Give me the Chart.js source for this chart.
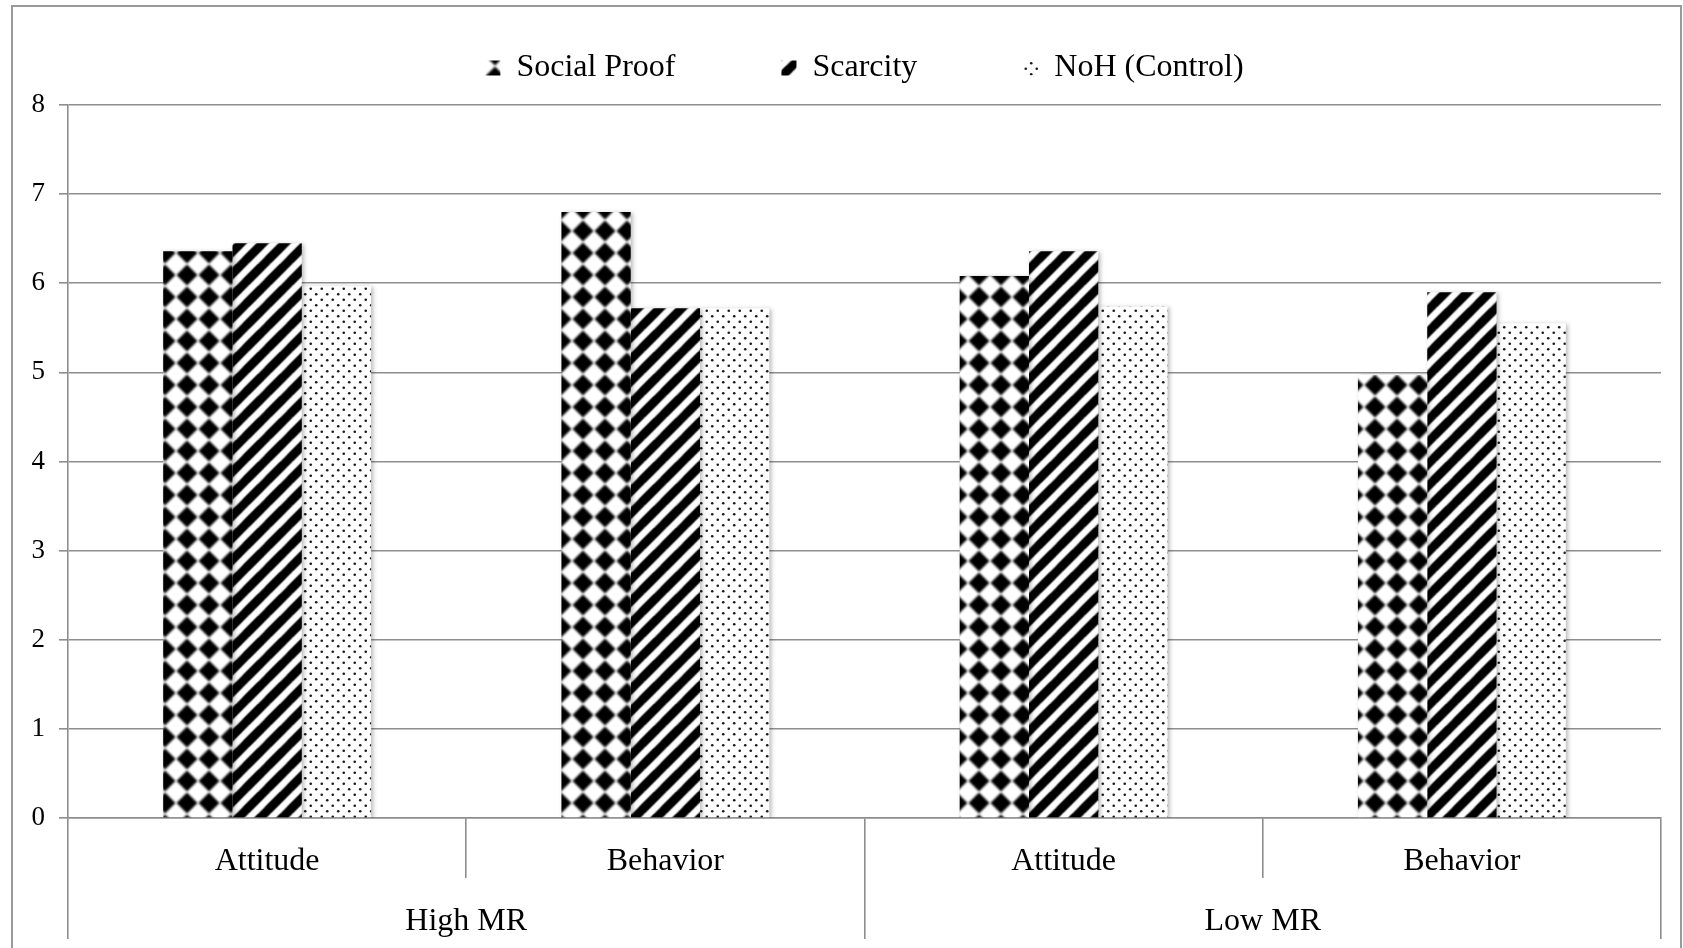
<!DOCTYPE html>
<html>
<head>
<meta charset="utf-8">
<script src="https://cdn.jsdelivr.net/npm/chart.js@4.4.1/dist/chart.umd.min.js"></script>
<style>
  html, body { margin: 0; padding: 0; background: #fff; }
  canvas { display: block; }
</style>
</head>
<body>
<canvas id="chart" width="1683" height="948"></canvas>
<script>
// Mean scores per condition (0–8 scale)
const conditions = ['Attitude', 'Behavior', 'Attitude', 'Behavior'];
const groups = ['High MR', 'Low MR'];
const socialProof = [6.36, 6.80, 6.08, 4.97];
const scarcity = [6.45, 5.72, 6.36, 5.90];
const control = [5.97, 5.72, 5.74, 5.55];
const yTicks = [0, 1, 2, 3, 4, 5, 6, 7, 8];

const canvas = document.getElementById('chart');
const mainCtx = canvas.getContext('2d');

// Monochrome fill patterns, drawn on a 3x3 wrap so the soft edges tile seamlessly
function makePattern(size, blur, drawShape) {
  const tile = document.createElement('canvas');
  tile.width = size;
  tile.height = size;
  const g = tile.getContext('2d');
  g.fillStyle = '#fff';
  g.fillRect(0, 0, size, size);
  g.filter = 'blur(' + blur + 'px)';
  for (const ox of [-size, 0, size]) {
    for (const oy of [-size, 0, size]) {
      g.save();
      g.translate(ox, oy);
      drawShape(g, size);
      g.restore();
    }
  }
  return mainCtx.createPattern(tile, 'repeat');
}

const diamondFill = makePattern(22, 0.9, (g, s) => {
  const c = s / 2, r = 10.5;
  g.fillStyle = '#000';
  g.beginPath();
  g.moveTo(c, c - r);
  g.lineTo(c + r, c);
  g.lineTo(c, c + r);
  g.lineTo(c - r, c);
  g.closePath();
  g.fill();
});

const stripeFill = makePattern(22, 0.8, (g, s) => {
  g.strokeStyle = '#000';
  g.lineWidth = 6;
  for (const k of [0, s, 2 * s]) {
    g.beginPath();
    g.moveTo(k - 40, 40);
    g.lineTo(k + 40, -40);
    g.stroke();
  }
});

const dotFill = makePattern(11, 0.5, (g, s) => {
  g.fillStyle = '#1a1a1a';
  for (const [x, y] of [[s / 4, s / 4], [3 * s / 4, 3 * s / 4]]) {
    g.beginPath();
    g.arc(x, y, 1.3, 0, Math.PI * 2);
    g.fill();
  }
});

const gridGray = '#8e8e8e';

// Outer chart frame
const framePlugin = {
  id: 'frame',
  beforeDraw(chart) {
    const ctx = chart.ctx;
    ctx.save();
    ctx.strokeStyle = '#9a9a9a';
    ctx.lineWidth = 2;
    ctx.strokeRect(12, 6, 1669, 990);
    ctx.restore();
  }
};

// Soft drop shadow under the bars
const barShadowPlugin = {
  id: 'barShadow',
  beforeDatasetsDraw(chart) {
    const ctx = chart.ctx;
    ctx.save();
    ctx.shadowColor = 'rgba(0,0,0,0.28)';
    ctx.shadowBlur = 4;
    ctx.shadowOffsetX = 2;
    ctx.shadowOffsetY = 1;
  },
  afterDatasetsDraw(chart) {
    chart.ctx.restore();
  }
};

Chart.defaults.font.family = '"Liberation Serif", "Times New Roman", serif';
Chart.defaults.color = '#000';

new Chart(mainCtx, {
  type: 'bar',
  data: {
    labels: conditions,
    datasets: [
      { label: 'Social Proof', data: socialProof, backgroundColor: diamondFill, borderWidth: 0 },
      { label: 'Scarcity', data: scarcity, backgroundColor: stripeFill, borderWidth: 0 },
      { label: 'NoH (Control)', data: control, backgroundColor: dotFill, borderWidth: 0 }
    ]
  },
  options: {
    responsive: false,
    animation: false,
    devicePixelRatio: 1,
    datasets: {
      bar: { categoryPercentage: 0.522, barPercentage: 1.0 }
    },
    layout: { padding: { top: -54, left: 0, right: 22, bottom: 8 } },
    plugins: {
      legend: {
        position: 'top',
        fullSize: false,
        labels: {
          boxWidth: 15,
          boxHeight: 15,
          padding: 106,
          color: '#000',
          font: { size: 32 }
        }
      },
      tooltip: { enabled: false }
    },
    scales: {
      y: {
        min: yTicks[0],
        max: yTicks[yTicks.length - 1],
        ticks: { stepSize: 1, padding: 14, color: '#000', font: { size: 27 } },
        grid: { color: gridGray, lineWidth: 1.6, tickLength: 9 },
        border: { color: gridGray, width: 1.6 },
        afterFit: s => { s.width = 68; }
      },
      x: {
        type: 'category',
        position: 'bottom',
        weight: 0,
        offset: true,
        grid: { offset: true, drawOnChartArea: false, tickLength: 60, color: gridGray, lineWidth: 1.6 },
        border: { color: gridGray, width: 1.6 },
        ticks: { padding: -36, color: '#000', font: { size: 32 }, maxRotation: 0, autoSkip: false },
        afterFit: s => { s.height = 60; }
      },
      x2: {
        type: 'category',
        labels: groups,
        position: 'bottom',
        weight: 1,
        offset: true,
        grid: { offset: true, drawOnChartArea: false, tickLength: 61, color: gridGray, lineWidth: 1.6 },
        border: { display: false },
        ticks: { padding: -37, color: '#000', font: { size: 32 }, maxRotation: 0, autoSkip: false },
        afterFit: s => { s.height = 62; }
      },
      gap: {
        type: 'category',
        position: 'top',
        grid: { display: false },
        ticks: { display: false },
        border: { display: false },
        afterFit: s => { s.height = 11; }
      }
    }
  },
  plugins: [framePlugin, barShadowPlugin]
});
</script>
</body>
</html>
